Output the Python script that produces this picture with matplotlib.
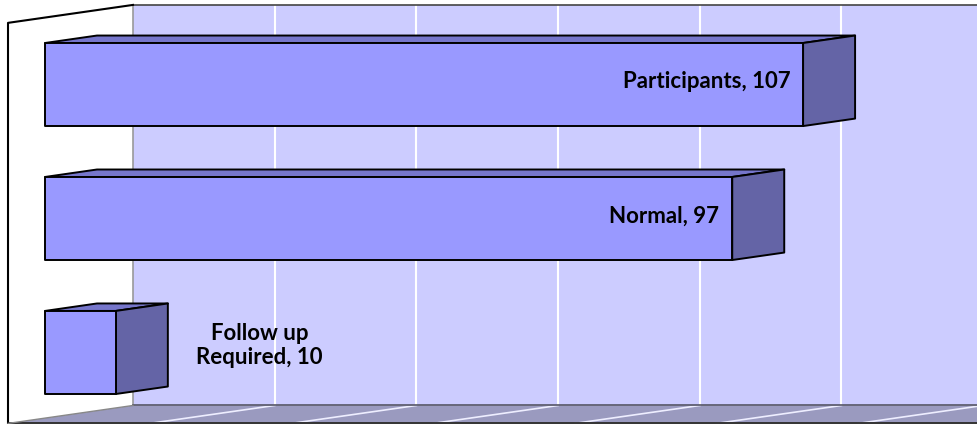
import matplotlib
matplotlib.use("Agg")
import matplotlib.pyplot as plt
from matplotlib.patches import Polygon

categories = ["Participants", "Normal", "Follow up\nRequired"]
values = [107, 97, 10]
grid_ticks = [20, 40, 60, 80, 100, 120]

# oblique "3d" projection: one unit of depth shifts right (value units) and up (rows)
DEPTH_DX = 17.64
DEPTH_DY = -0.134
Z_WALL_FRONT = -0.296
Z_BAR_BACK = 0.416
Z_BACK = 0.704
WALL_TOP = -0.5
FLOOR = 2.49
HALF = 0.31
XMAX = 140

FRONT = "#9999ff"
TOP = "#7676cb"
SIDE = "#6464a6"
WALL = "#ccccff"
FLOOR_C = "#9a9abf"


def proj(v, r, z):
    return (v + z * DEPTH_DX, r + z * DEPTH_DY)


def face(ax, pts, fc, ec="black", lw=1.4, z=2):
    ax.add_patch(Polygon(pts, closed=True, facecolor=fc, edgecolor=ec,
                         linewidth=lw, joinstyle="round", zorder=z))


fig = plt.figure(figsize=(9.77, 4.24), dpi=100)
ax = fig.add_axes([0, 0, 1, 1])
ax.set_xlim(-45 / 7.085, 932 / 7.085)
ax.set_ylim(2.534, -0.631)
ax.axis("off")

# back wall
face(ax, [proj(0, WALL_TOP, Z_BACK), proj(XMAX, WALL_TOP, Z_BACK),
          proj(XMAX, FLOOR, Z_BACK), proj(0, FLOOR, Z_BACK)], WALL, ec="none", z=0)
x0, y0 = proj(0, WALL_TOP, Z_BACK)
x1, _ = proj(XMAX, WALL_TOP, Z_BACK)
ax.plot([x0, x1], [y0, y0], color="#444444", lw=1.2, zorder=1)
xb, yb = proj(0, FLOOR, Z_BACK)
ax.plot([x0, xb], [y0, yb], color="#999999", lw=1.2, zorder=1)

# floor
face(ax, [proj(0, FLOOR, Z_WALL_FRONT), proj(0, FLOOR, Z_BACK),
          proj(XMAX, FLOOR, Z_BACK), proj(XMAX, FLOOR, Z_WALL_FRONT)],
     FLOOR_C, ec="none", z=0)
fx0, fy0 = proj(0, FLOOR, Z_WALL_FRONT)
fx1, fy1 = proj(XMAX, FLOOR, Z_WALL_FRONT)
ax.plot([fx0, fx1], [fy0, fy1], color="#333333", lw=1.4, zorder=1)
bx1, by1 = proj(XMAX, FLOOR, Z_BACK)
ax.plot([xb, bx1], [yb, by1], color="#555566", lw=1.2, zorder=1)

# gridlines on back wall and floor
for g in grid_ticks:
    gx, gt = proj(g, WALL_TOP, Z_BACK)
    _, gb = proj(g, FLOOR, Z_BACK)
    ax.plot([gx, gx], [gt, gb], color="white", lw=1.5, zorder=0.5)
    fx, fy = proj(g, FLOOR, Z_WALL_FRONT)
    ax.plot([gx, fx], [gb, fy], color="#eeeeff", lw=1.2, zorder=0.5)

# side wall
face(ax, [proj(0, WALL_TOP, Z_WALL_FRONT), proj(0, WALL_TOP, Z_BACK),
          proj(0, FLOOR, Z_BACK), proj(0, FLOOR, Z_WALL_FRONT)], "white", ec="none", z=0.8)
sx0, sy0 = proj(0, WALL_TOP, Z_WALL_FRONT)
sx1, sy1 = proj(0, WALL_TOP, Z_BACK)
sx2, sy2 = proj(0, FLOOR, Z_WALL_FRONT)
ax.plot([sx2, sx0, sx1], [sy2 + 0.05, sy0, sy1], color="black", lw=1.5, zorder=1)
ax.plot([sx2, xb], [sy2, yb], color="#888888", lw=1.0, zorder=1)

# bars
for i, v in enumerate(values):
    top, bot = i - HALF, i + HALF
    face(ax, [proj(0, top, 0), proj(v, top, 0), proj(v, top, Z_BAR_BACK),
              proj(0, top, Z_BAR_BACK)], TOP)
    face(ax, [proj(v, top, 0), proj(v, top, Z_BAR_BACK), proj(v, bot, Z_BAR_BACK),
              proj(v, bot, 0)], SIDE)
    face(ax, [(0, top), (v, top), (v, bot), (0, bot)], FRONT, z=3)

    label = f"{categories[i]}, {v}"
    if v >= 20:
        ax.text(v - 1.8, i - 0.02, label, ha="right", va="center",
                fontsize=16, fontweight="bold", family="Lato", zorder=5)
    else:
        ax.text(v + 20.3, i - 0.05, label, ha="center", va="center",
                fontsize=16, fontweight="bold", family="Lato",
                linespacing=1.2, zorder=5)

fig.savefig("out.png", dpi=100)
